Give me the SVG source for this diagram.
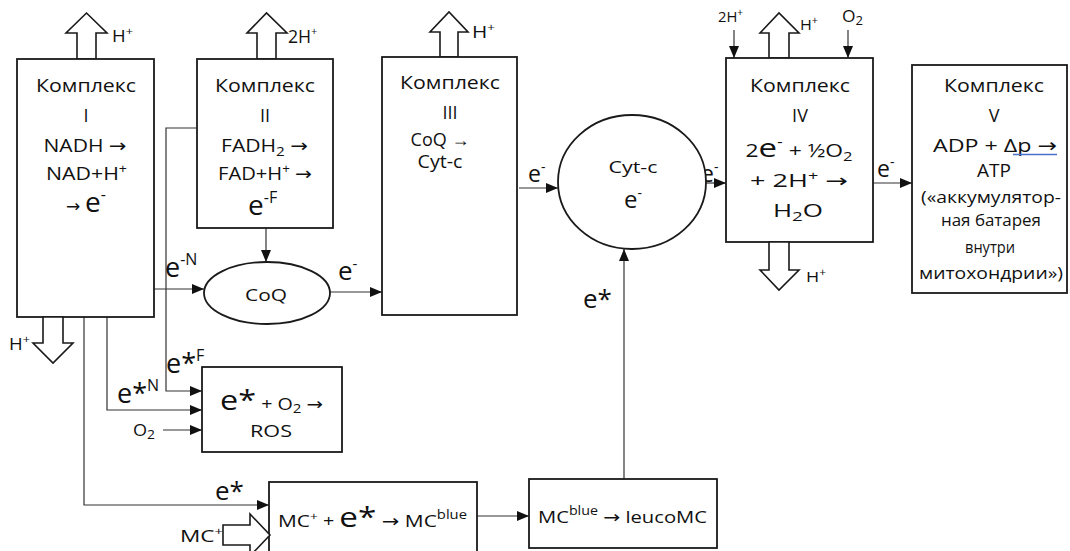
<svg xmlns="http://www.w3.org/2000/svg" width="1070" height="551" viewBox="0 0 1070 551">
<defs>
<marker id="ah" viewBox="0 0 12 10" refX="12" refY="5" markerWidth="12" markerHeight="10" markerUnits="userSpaceOnUse" orient="auto"><path d="M0,0 L12,5 L0,10 z" fill="#111"/></marker>
</defs>
<style>
.box{fill:#fff;stroke:#1a1a1a;stroke-width:1.8}
.blk{fill:#fff;stroke:#1a1a1a;stroke-width:1.6;stroke-linejoin:miter}
.ln{fill:none;stroke:#333;stroke-width:1.2}
.ar{marker-end:url(#ah)}
.t{font-family:"Open Sans","Liberation Sans",sans-serif;font-size:18px;fill:#111}
.f15{font-size:15px}
.f16{font-size:16px}
.f17{font-size:17px}
.f19{font-size:19px}
.m{text-anchor:middle}
.arw{font-family:"DejaVu Sans",sans-serif}
</style>
<rect width="1070" height="551" fill="#fff"/>

<g id="connectors">
<path class="ln ar" d="M266,228 V262"/>
<path class="ln ar" d="M154,289 H204"/>
<path class="ln ar" d="M330,292 H382"/>
<path class="ln ar" d="M519,188 H558"/>
<path class="ln ar" d="M706,183 H726"/>
<path class="ln ar" d="M873,183 H912"/>
<path class="ln ar" d="M197,128 H166 V391 H202"/>
<path class="ln ar" d="M107,317 V410 H202"/>
<path class="ln ar" d="M163,430 H202"/>
<path class="ln ar" d="M84,317 V505 H269"/>
<path class="ln ar" d="M477,516 H529"/>
<path class="ln ar" d="M624,479 V249"/>
<path class="ln ar" d="M734,30 V58"/>
<path class="ln ar" d="M848,30 V58"/>
</g>

<g id="connector-labels" class="t">
<text x="165" y="277"><tspan font-size="27">e</tspan><tspan font-size="16" dy="-12">-N</tspan></text>
<text x="338" y="280"><tspan font-size="26">e</tspan><tspan font-size="15" dy="-11">-</tspan></text>
<text x="528" y="182"><tspan font-size="23">e</tspan><tspan font-size="14" dy="-10">-</tspan></text>
<text x="701" y="182"><tspan font-size="23">e</tspan><tspan font-size="14" dy="-10">-</tspan></text>
<text x="877" y="177"><tspan font-size="23">e</tspan><tspan font-size="14" dy="-10">-</tspan></text>
<text x="583" y="308"><tspan font-size="26">e*</tspan></text>
<text x="166" y="373"><tspan font-size="27">e*</tspan><tspan font-size="16" dy="-12">F</tspan></text>
<text x="117" y="403"><tspan font-size="27">e*</tspan><tspan font-size="16" dy="-12">N</tspan></text>
<text x="133" y="436" class="t f17" textLength="22" lengthAdjust="spacingAndGlyphs">O<tspan font-size="13" dy="3">2</tspan></text>
<text x="215" y="500"><tspan font-size="26">e*</tspan></text>
<text x="718" y="22" class="t f15" textLength="25" lengthAdjust="spacingAndGlyphs">2H<tspan font-size="10" dy="-6">+</tspan></text>
<text x="842" y="22" class="t f16" textLength="21" lengthAdjust="spacingAndGlyphs">O<tspan font-size="12" dy="3">2</tspan></text>
</g>

<g id="complex1">
<polygon class="blk" points="77,59 77,33 66,33 86.5,13 107,33 96,33 96,59"/>
<text class="t f16" x="112" y="42" textLength="21" lengthAdjust="spacingAndGlyphs">H<tspan font-size="11" dy="-7">+</tspan></text>
<rect class="box" x="17" y="59" width="137" height="258"/>
<text class="t m" x="86" y="92" textLength="100" lengthAdjust="spacingAndGlyphs">Комплекс</text>
<text class="t m" x="86" y="122">I</text>
<text class="t m" x="85" y="152" textLength="83" lengthAdjust="spacingAndGlyphs">NADH <tspan class="arw">→</tspan></text>
<text class="t m" x="86.5" y="180" textLength="81" lengthAdjust="spacingAndGlyphs">NAD+H<tspan font-size="12" dy="-7">+</tspan></text>
<text class="t m" x="86" y="212"><tspan class="arw" font-size="17">→</tspan> <tspan font-size="28">e</tspan><tspan font-size="16" dy="-12">-</tspan></text>
<polygon class="blk" points="43,317 43,343 33,343 53,363 73,343 63,343 63,317"/>
<text class="t f16" x="9" y="350" textLength="21" lengthAdjust="spacingAndGlyphs">H<tspan font-size="11" dy="-7">+</tspan></text>
</g>

<g id="complex2">
<polygon class="blk" points="257,59 257,33 247,33 266.5,13 287,33 276,33 276,59"/>
<text class="t f19" x="288" y="43" textLength="29" lengthAdjust="spacingAndGlyphs">2H<tspan font-size="11" dy="-8">+</tspan></text>
<rect class="box" x="197" y="59" width="136" height="169"/>
<text class="t m" x="265" y="92" textLength="100" lengthAdjust="spacingAndGlyphs">Комплекс</text>
<text class="t m" x="265" y="122">II</text>
<text class="t m" x="264.5" y="152" textLength="87" lengthAdjust="spacingAndGlyphs">FADH<tspan font-size="13" dy="4">2</tspan><tspan dy="-4"> </tspan><tspan class="arw">→</tspan></text>
<text class="t m" x="265" y="180" textLength="94" lengthAdjust="spacingAndGlyphs">FAD+H<tspan font-size="12" dy="-7">+</tspan><tspan dy="7"> </tspan><tspan class="arw">→</tspan></text>
<text class="t" x="248" y="215"><tspan font-size="28">e</tspan><tspan font-size="16" dy="-12">-F</tspan></text>
</g>

<g id="coq">
<ellipse class="box" cx="267" cy="293" rx="63" ry="31"/>
<text class="t m f17" x="266" y="301" textLength="42" lengthAdjust="spacingAndGlyphs">CoQ</text>
</g>

<g id="complex3">
<polygon class="blk" points="440,57 440,32 430,32 449,12 468,32 458,32 458,57"/>
<text class="t f17" x="472" y="38" textLength="23" lengthAdjust="spacingAndGlyphs">H<tspan font-size="11" dy="-7">+</tspan></text>
<rect class="box" x="382" y="57" width="135" height="258"/>
<text class="t m" x="450" y="89" textLength="100" lengthAdjust="spacingAndGlyphs">Комплекс</text>
<text class="t m" x="450" y="119">III</text>
<text class="t m" x="440" y="146">CoQ →</text>
<text class="t m" x="440" y="168" textLength="45" lengthAdjust="spacingAndGlyphs">Cyt-c</text>
</g>

<g id="cytc">
<ellipse class="box" cx="632" cy="182" rx="74" ry="67"/>
<text class="t m f17" x="633" y="173" textLength="49" lengthAdjust="spacingAndGlyphs">Cyt-c</text>
<text class="t m" x="633" y="208"><tspan font-size="24">e</tspan><tspan font-size="14" dy="-10">-</tspan></text>
</g>

<g id="complex4">
<polygon class="blk" points="769,58 769,33 760,33 779,13 799,33 789,33 789,58"/>
<text class="t f15" x="800" y="30" textLength="18" lengthAdjust="spacingAndGlyphs">H<tspan font-size="10" dy="-6">+</tspan></text>
<rect class="box" x="726" y="58" width="147" height="184"/>
<text class="t m" x="800" y="92" textLength="100" lengthAdjust="spacingAndGlyphs">Комплекс</text>
<text class="t m" x="800" y="122">IV</text>
<text class="t m" x="799" y="157" textLength="107" lengthAdjust="spacingAndGlyphs">2<tspan font-size="26">e</tspan><tspan font-size="14" dy="-10">-</tspan><tspan dy="10"> + ½O</tspan><tspan font-size="13" dy="4">2</tspan></text>
<text class="t m" x="799" y="187" textLength="98" lengthAdjust="spacingAndGlyphs">+ 2H<tspan font-size="12" dy="-7">+</tspan><tspan dy="7"> </tspan><tspan class="arw">→</tspan></text>
<text class="t m" x="798" y="217" textLength="50" lengthAdjust="spacingAndGlyphs">H<tspan font-size="13" dy="4">2</tspan><tspan dy="-4">O</tspan></text>
<polygon class="blk" points="769,242 769,270 760,270 779,290 799,270 789,270 789,242"/>
<text class="t f15" x="806" y="282" textLength="20" lengthAdjust="spacingAndGlyphs">H<tspan font-size="10" dy="-6">+</tspan></text>
</g>

<g id="complex5">
<rect class="box" x="912" y="65" width="155" height="228"/>
<text class="t m" x="994" y="92" textLength="100" lengthAdjust="spacingAndGlyphs">Комплекс</text>
<text class="t m" x="994" y="122">V</text>
<text class="t m f19" x="995" y="152" textLength="124" lengthAdjust="spacingAndGlyphs">ADP + Δp  <tspan class="arw">→</tspan></text>
<line x1="1013" y1="154.5" x2="1057" y2="154.5" stroke="#4a72c8" stroke-width="1.3"/>
<text class="t m f19" x="994" y="177">ATP</text>
<text class="t m f16" x="991" y="203" textLength="140" lengthAdjust="spacingAndGlyphs">(«аккумулятор-</text>
<text class="t m f16" x="991" y="226" textLength="100" lengthAdjust="spacingAndGlyphs">ная батарея</text>
<text class="t m f16" x="990" y="253" textLength="50" lengthAdjust="spacingAndGlyphs">внутри</text>
<text class="t m f16" x="991" y="279" textLength="144" lengthAdjust="spacingAndGlyphs">митохондрии»)</text>
</g>

<g id="ros">
<rect class="box" x="202" y="367" width="140" height="85"/>
<text class="t m" x="271.5" y="410" textLength="103" lengthAdjust="spacingAndGlyphs"><tspan font-size="28">e*</tspan><tspan font-size="17"> + O</tspan><tspan font-size="13" dy="3">2</tspan><tspan font-size="17" dy="-3"> </tspan><tspan class="arw" font-size="17">→</tspan></text>
<text class="t m f17" x="271" y="437" textLength="42" lengthAdjust="spacingAndGlyphs">ROS</text>
</g>

<g id="mc">
<rect class="box" x="269" y="482" width="208" height="72"/>
<text class="t m f17" x="372.5" y="527" textLength="189" lengthAdjust="spacingAndGlyphs">MC<tspan font-size="11" dy="-7">+</tspan><tspan font-size="16" dy="7"> + </tspan><tspan font-size="27">e*</tspan><tspan> </tspan><tspan class="arw">→</tspan><tspan> MC</tspan><tspan font-size="12" dy="-8">blue</tspan></text>
<polygon class="blk" points="223,525 250,525 250,514 270,535 250,556 250,545 223,545"/>
<text class="t f17" x="180" y="542" textLength="43" lengthAdjust="spacingAndGlyphs">MC<tspan font-size="11" dy="-7">+</tspan></text>
</g>

<g id="leucomc">
<rect class="box" x="529" y="479" width="188" height="69"/>
<text class="t m f17" x="622.5" y="523" textLength="169" lengthAdjust="spacingAndGlyphs">MC<tspan font-size="12" dy="-8">blue</tspan><tspan dy="8"> </tspan><tspan class="arw">→</tspan><tspan> leucoMC</tspan></text>
</g>
</svg>
